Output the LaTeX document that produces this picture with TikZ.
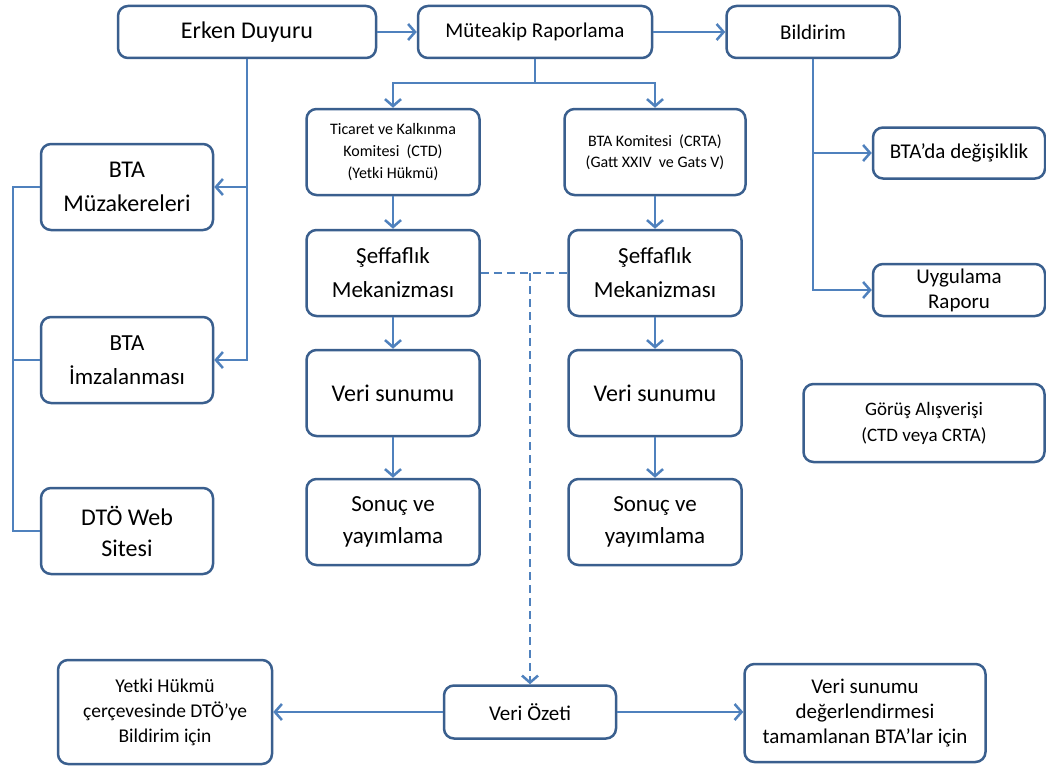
\documentclass[tikz,border=0pt]{standalone}
\usepackage{fontspec}
\setmainfont{Carlito}
\usetikzlibrary{arrows.meta}

\definecolor{boxblue}{HTML}{3A5F8E}
\definecolor{lineblue}{HTML}{4F81BD}

\newcommand{\fsz}[2]{\fontsize{#1}{#2}\selectfont}

\tikzset{
    box/.style={draw=boxblue, line width=2.5pt, rounded corners=10pt, fill=white,
        align=center, inner sep=0pt, text=black},
    flow/.style={draw=lineblue, line width=2.5pt,
        -{Straight Barb[length=7pt, width=16pt, line width=2.5pt]}},
    link/.style={draw=lineblue, line width=2.5pt},
    dashlink/.style={draw=lineblue, line width=2.5pt, dash pattern=on 8pt off 5pt}
}

\begin{document}
\begin{tikzpicture}[x=1pt, y=-1pt]
    \useasboundingbox[fill=white] (0,0) rectangle (1046,768);

    % Top row
    \node[box, minimum width=258pt, minimum height=52pt, font={\fsz{24}{30}}] (erken) at (247,32) {Erken Duyuru};
    \node[box, minimum width=234pt, minimum height=52pt, font={\fsz{21}{26}}] (muteakip) at (535,32) {Müteakip Raporlama};
    \node[box, minimum width=173pt, minimum height=52pt, font={\fsz{21}{26}}] (bildirim) at (813,32) {Bildirim};

    % Committees
    \node[box, minimum width=173pt, minimum height=86pt, font={\fsz{16}{22}}] (ctd) at (393,152) {Ticaret ve Kalkınma\\Komitesi~~(CTD)\\(Yetki Hükmü)};
    \node[box, minimum width=181pt, minimum height=86pt, font={\fsz{16}{21}}] (crta) at (655,152) {BTA Komitesi~~(CRTA)\\(Gatt XXIV~~ve Gats V)};

    % Two columns
    \node[box, minimum width=173pt, minimum height=86pt, font={\fsz{23}{34}}] (seffA) at (393,273) {Şeffaflık\\Mekanizması};
    \node[box, minimum width=173pt, minimum height=86pt, font={\fsz{23}{34}}] (seffB) at (655,273) {Şeffaflık\\Mekanizması};
    \node[box, minimum width=173pt, minimum height=86pt, font={\fsz{24}{34}}] (veriA) at (393,393) {Veri sunumu};
    \node[box, minimum width=173pt, minimum height=86pt, font={\fsz{24}{34}}] (veriB) at (655,393) {Veri sunumu};
    \node[box, minimum width=173pt, minimum height=86pt, font={\fsz{23}{32}}] (sonucA) at (393,522) {Sonuç ve\\yayımlama};
    \node[box, minimum width=173pt, minimum height=86pt, font={\fsz{23}{32}}] (sonucB) at (655,522) {Sonuç ve\\yayımlama};

    % Left column
    \node[box, minimum width=172pt, minimum height=86pt, font={\fsz{24}{34}}] (muzak) at (127,187) {BTA\\Müzakereleri};
    \node[box, minimum width=172pt, minimum height=86pt, font={\fsz{23}{34}}] (imza) at (127,360) {BTA\\İmzalanması};
    \node[box, minimum width=172pt, minimum height=86pt, font={\fsz{24}{31}}] (web) at (127,531) {DTÖ Web\\Sitesi};

    % Right column
    \node[box, minimum width=172pt, minimum height=51pt, font={\fsz{21}{26}}] (degisik) at (959,153) {BTA’da değişiklik};
    \node[box, minimum width=172pt, minimum height=52pt, font={\fsz{21}{25}}] (uygulama) at (959,290) {Uygulama\\Raporu};
    \node[box, minimum width=241pt, minimum height=78pt, font={\fsz{19}{26}}] (gorus) at (924,423) {Görüş Alışverişi\\(CTD veya CRTA)};

    % Bottom row
    \node[box, minimum width=214pt, minimum height=104pt, font={\fsz{19.5}{25}}] (yetki) at (165,712) {Yetki Hükmü\\çerçevesinde DTÖ’ye\\Bildirim için};
    \node[box, minimum width=172pt, minimum height=53pt, font={\fsz{21}{26}}] (ozet) at (530,712) {Veri Özeti};
    \node[box, minimum width=241pt, minimum height=98pt, font={\fsz{21}{25}}] (degerl) at (865,713) {Veri sunumu\\değerlendirmesi\\tamamlanan BTA’lar için};

    \coordinate (split) at (535,83);
    \coordinate (dashsplit) at (530,273);

    % Connectors
    \draw[flow] (erken) -- (muteakip);
    \draw[flow] (muteakip) -- (bildirim);
    \draw[flow] (erken.south) |- (muzak.east);
    \draw[flow] (erken.south) |- (imza.east);
    \draw[link] (muteakip.south) -- (split);
    \draw[flow] (split) -| (ctd.north);
    \draw[flow] (split) -| (crta.north);
    \draw[flow] (bildirim.south) |- (degisik.west);
    \draw[flow] (bildirim.south) |- (uygulama.west);
    \draw[link] (muzak.west) -- ++(-27,0) |- (web.west);
    \draw[link] (imza.west) -- ++(-27,0);
    \foreach \a/\b in {ctd/seffA, seffA/veriA, veriA/sonucA, crta/seffB, seffB/veriB, veriB/sonucB}
        \draw[flow] (\a) -- (\b);
    \draw[dashlink] (seffA.east) -- (seffB.west);
    \draw[dashlink, -{Straight Barb[length=7pt, width=16pt, line width=2.5pt]}] (dashsplit) -- (ozet.north);
    \draw[flow] (ozet) -- (yetki);
    \draw[flow] (ozet.east) -- (ozet.east -| degerl.west);
\end{tikzpicture}
\end{document}
